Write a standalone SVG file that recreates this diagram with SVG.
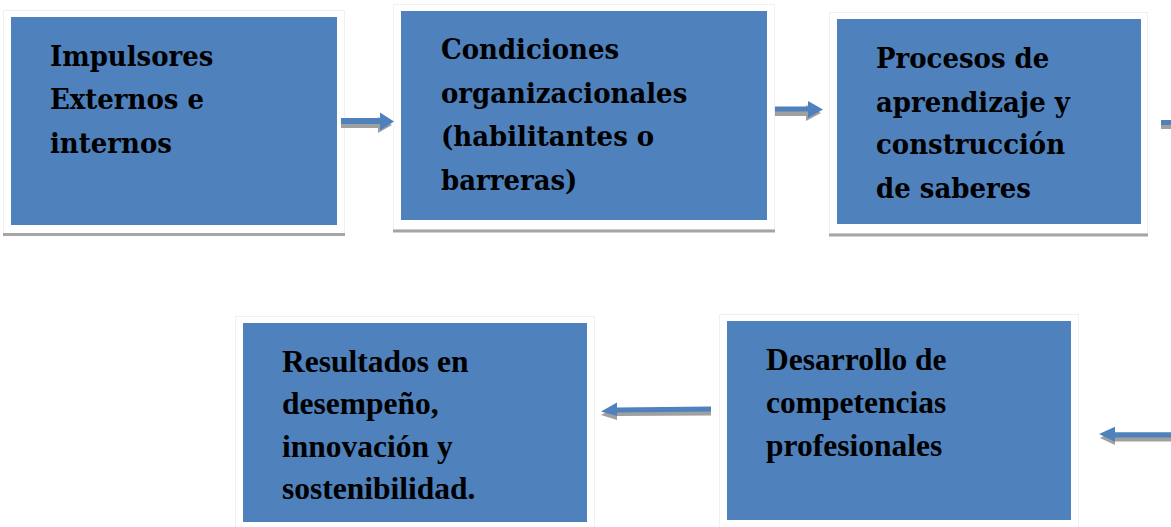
<svg xmlns="http://www.w3.org/2000/svg" width="1171" height="527" viewBox="0 0 1171 527">
<style>
.box{fill:#4f81bd}
.frame{fill:#fff;stroke:#f0f0f0;stroke-width:1}
.sh{fill:none;stroke:#a6a6a6;stroke-width:3}
.t1{font-family:"DejaVu Serif","Liberation Serif",serif;font-weight:bold;font-size:26px;fill:#000}
.t2{font-family:"Liberation Serif","Times New Roman",serif;font-weight:bold;font-size:31.5px;fill:#000}
.ab{fill:#4f81bd}
.as{fill:#a0a0a0}
</style>
<rect width="1171" height="527" fill="#fff"/>
<g id="node-impulsores">
<rect class="frame" x="3.5" y="10.5" width="341" height="223"/>
<line class="sh" x1="3" y1="234.5" x2="345" y2="234.5"/>
<rect class="box" x="11" y="17" width="326" height="208"/>
<text class="t1" transform="scale(1,1.1)"><tspan x="50" y="59.55">Impulsores</tspan><tspan x="50" y="99.55">Externos e</tspan><tspan x="50" y="139.55">internos</tspan></text>
</g>
<g id="node-condiciones">
<rect class="frame" x="393.5" y="4.5" width="381" height="225"/>
<line class="sh" x1="393" y1="231" x2="775" y2="231"/>
<rect class="box" x="401" y="11" width="366" height="209"/>
<text class="t1" transform="scale(1,1.1)"><tspan x="441" y="53.6">Condiciones</tspan><tspan x="441" y="93.6">organizacionales</tspan><tspan x="441" y="132.7">(habilitantes o</tspan><tspan x="441" y="172.7">barreras)</tspan></text>
</g>
<g id="node-procesos">
<rect class="frame" x="829.5" y="12.5" width="318" height="221"/>
<line class="sh" x1="829" y1="235" x2="1148" y2="235"/>
<rect class="box" x="837" y="19" width="304" height="205"/>
<text class="t1" transform="scale(1,1.1)"><tspan x="876" y="61.8">Procesos de</tspan><tspan x="876" y="101.8">aprendizaje y</tspan><tspan x="876" y="140">construcción</tspan><tspan x="876" y="180">de saberes</tspan></text>
</g>
<g id="node-resultados">
<rect class="frame" x="235.5" y="316.5" width="359" height="215"/>
<rect class="box" x="243" y="323" width="344" height="199"/>
<text class="t2"><tspan x="282" y="372">Resultados en</tspan><tspan x="282" y="414">desempeño,</tspan><tspan x="282" y="456.5">innovación y</tspan><tspan x="282" y="498.5">sostenibilidad.</tspan></text>
</g>
<g id="node-desarrollo">
<rect class="frame" x="719.5" y="314.5" width="359" height="215"/>
<rect class="box" x="727" y="321" width="344" height="199"/>
<text class="t2"><tspan x="766" y="370">Desarrollo de</tspan><tspan x="766" y="413">competencias</tspan><tspan x="766" y="456">profesionales</tspan></text>
</g>
<g id="connectors">
<polygon class="as" points="341,122 378,122 378,117 392,125 378,133 378,128 341,128"/>
<polygon class="ab" points="341,118 380,118 380,112.5 394,121.5 380,130.5 380,124 341,124"/>
<polygon class="as" points="775,110 806,110 806,105 821,113 806,121 806,116 775,116"/>
<polygon class="ab" points="775,106.5 808,106.5 808,101 823,109.5 808,118 808,111.5 775,111.5"/>
<rect class="as" x="1161" y="124" width="10" height="5"/>
<rect class="ab" x="1161" y="120" width="10" height="5"/>
<polygon class="as" points="711,409.5 617,411 617,406 601,415 617,420 617,416 711,415.5"/>
<polygon class="ab" points="711,406.5 617,407.5 617,402.5 601,411.5 617,416 617,412.5 711,411.5"/>
<polygon class="as" points="1171,436 1115,436 1115,430 1100,438 1115,445 1115,441.5 1171,441.5"/>
<polygon class="ab" points="1171,432.3 1115,432.3 1115,426.7 1099,434 1115,441.7 1115,437.5 1171,437.5"/>
</g>
</svg>
